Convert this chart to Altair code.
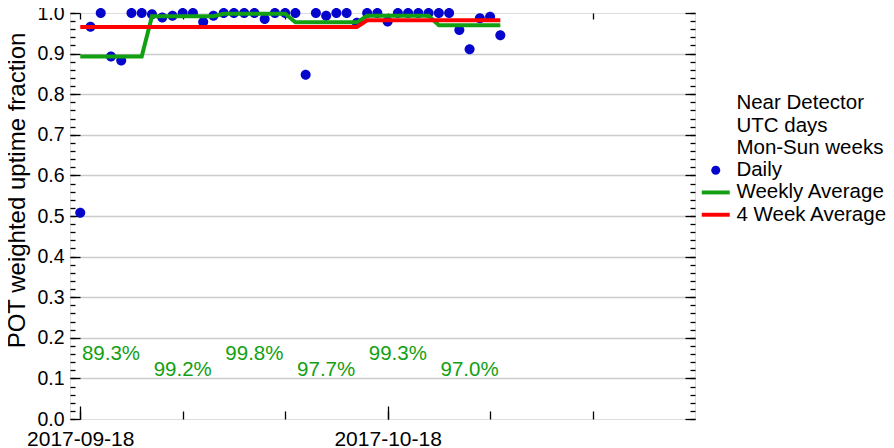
import altair as alt
import pandas as pd

# ---------------- data ----------------
first_day = "2017-09-18"
daily = [0.508, 0.966, 1.0, 0.893, 0.883, 1.0, 1.0,
         0.997, 0.989, 0.993, 1.0, 1.0, 0.978, 0.993,
         1.0, 1.0, 1.0, 1.0, 0.985, 1.0, 1.0,
         1.0, 0.848, 1.0, 0.993, 1.0, 1.0, 0.976,
         1.0, 1.0, 0.979, 1.0, 1.0, 1.0, 1.0,
         1.0, 1.0, 0.958, 0.911, 0.987, 0.991, 0.945]
weekly = [0.893, 0.992, 0.998, 0.977, 0.993, 0.970]
four_week = [0.9655, 0.982]
week_labels = ["89.3%", "99.2%", "99.8%", "97.7%", "99.3%", "97.0%"]
legend_items = ["Near Detector", "UTC days", "Mon-Sun weeks",
                "Daily", "Weekly Average", "4 Week Average"]
x_domain = ["2017-09-17", "2017-11-17"]
x_label_dates = ["2017-09-18", "2017-10-18"]
x_tick_dates = ["2017-09-18", "2017-09-28", "2017-10-08",
                "2017-10-18", "2017-10-28", "2017-11-07"]
y_major = [round(i * 0.1, 1) for i in range(11)]
y_minor = [round(i * 0.02, 2) for i in range(51)]

BLUE = "#0505cc"
GREEN = "#12a012"
RED = "#ff0000"
FONT = "Liberation Sans"
W, H = 625, 406

# legend / marker glyphs (unit-box SVG paths)
DOT = "M0.643,0A0.643,0.643,0,1,1,-0.643,0A0.643,0.643,0,1,1,0.643,0Z"
BAR = "M-2,-0.28H2V0.28H-2Z"


def ms(s):
    return int(pd.Timestamp(s, tz="UTC").value // 10**6)


dates = pd.date_range(first_day, periods=len(daily), freq="D")
dstr = dates.strftime("%Y-%m-%d")

df_daily = pd.DataFrame({"date": dstr, "value": daily, "series": "Daily"})
df_week = pd.DataFrame({"date": dstr, "value": [weekly[i // 7] for i in range(len(daily))]})
df_4w = pd.DataFrame({"date": dstr, "value": [four_week[i // 28] for i in range(len(daily))]})
df_text = pd.DataFrame({
    "date": dstr[3::7],
    "label": week_labels,
    "y": [0.16 if i % 2 == 0 else 0.12 for i in range(len(week_labels))],
})
df_text_hi = df_text.iloc[0::2]
df_text_lo = df_text.iloc[1::2]

xs = alt.Scale(type="utc", domain=[ms(x_domain[0]), ms(x_domain[1])])
ys = alt.Scale(domain=[0, 1], nice=False, zero=False)


def tick_axis(orient, values, size, offset):
    return alt.Axis(orient=orient, values=values, tickSize=size, offset=offset,
                    labels=False, domain=False, grid=False, title=None,
                    ticks=True, tickColor="black", tickWidth=1.3)


x_labels = alt.Axis(orient="bottom", values=[ms(d) for d in x_label_dates],
                    labelExpr="utcFormat(datum.value, '%Y-%m-%d')",
                    ticks=False, domain=False,
                    grid=False, labelFontSize=21, labelFont=FONT, labelColor="black",
                    labelPadding=9, title=None, labelFlush=False)
x_long = tick_axis("top", [ms(d) for d in x_label_dates], 13, -H)
x_short = tick_axis("top", [ms(d) for d in x_tick_dates], 8, -H)
x_top = tick_axis("bottom", [ms(d) for d in x_tick_dates], 6, -H)

y_labels = alt.Axis(orient="left", values=y_major, format=".1f", ticks=False,
                    domain=False, grid=True,
                    gridColor={"condition": {"test": "datum.value > 0.99 || datum.value < 0.01",
                                             "value": "transparent"},
                               "value": "#cccccc"},
                    gridWidth=1.5,
                    labelFontSize=19.5, labelFont=FONT, labelColor="black",
                    labelPadding=6, title="POT weighted uptime fraction",
                    titleFontSize=24, titleFont=FONT, titleFontWeight="normal",
                    titleColor="black", titlePadding=7, titleY=177)
y_left_major = tick_axis("right", y_major, 10, -W)
y_left_minor = tick_axis("right", y_minor, 5, -W)
y_right_major = tick_axis("left", y_major, 10, -W)
y_right_minor = tick_axis("left", y_minor, 5, -W)

legend = alt.Legend(
    title=None, orient="none", legendX=635.5, legendY=80, padding=0,
    labelFontSize=20.5, labelFont=FONT, labelColor="black", labelLimit=0,
    symbolSize=196, symbolStrokeWidth=0, rowPadding=1.3, labelOffset=10.4,
    symbolOpacity=1,
)

points = alt.Chart(df_daily).mark_point(
    filled=True, size=242, opacity=1, strokeWidth=0
).encode(
    x=alt.X("date:T", scale=xs, axis=x_labels),
    y=alt.Y("value:Q", scale=ys, axis=y_labels),
    color=alt.Color("series:N",
                    scale=alt.Scale(domain=legend_items,
                                    range=["transparent", "transparent", "transparent",
                                           BLUE, GREEN, RED]),
                    legend=legend),
    shape=alt.Shape("series:N",
                    scale=alt.Scale(domain=legend_items,
                                    range=[BAR, BAR, BAR, DOT, BAR, BAR]),
                    legend=legend),
)

green = alt.Chart(df_week).mark_line(strokeWidth=4, color=GREEN).encode(
    x=alt.X("date:T", scale=xs, axis=x_long),
    y=alt.Y("value:Q", scale=ys, axis=y_left_major),
)

red = alt.Chart(df_4w).mark_line(strokeWidth=4, color=RED).encode(
    x=alt.X("date:T", scale=xs, axis=x_short),
    y=alt.Y("value:Q", scale=ys, axis=y_left_minor),
)

text_hi = alt.Chart(df_text_hi).mark_text(
    fontSize=20.5, font=FONT, color=GREEN, align="center", baseline="middle"
).encode(
    x=alt.X("date:T", scale=xs, axis=x_top),
    y=alt.Y("y:Q", scale=ys, axis=y_right_major),
    text="label:N",
)

text_lo = alt.Chart(df_text_lo).mark_text(
    fontSize=20.5, font=FONT, color=GREEN, align="center", baseline="middle"
).encode(
    x=alt.X("date:T", scale=xs, axis=None),
    y=alt.Y("y:Q", scale=ys, axis=y_right_minor),
    text="label:N",
)

chart = alt.layer(points, green, red, text_hi, text_lo).resolve_axis(
    x="independent", y="independent"
).properties(
    width=W, height=H,
    autosize=alt.AutoSizeParams(type="none"),
    padding={"left": 62, "top": 5, "right": 191, "bottom": 40},
).configure_view(
    stroke="black", strokeWidth=2.5
).configure(
    font=FONT, background="white"
)

chart.save("out.html", embed_options={"renderer": "svg", "actions": False})
